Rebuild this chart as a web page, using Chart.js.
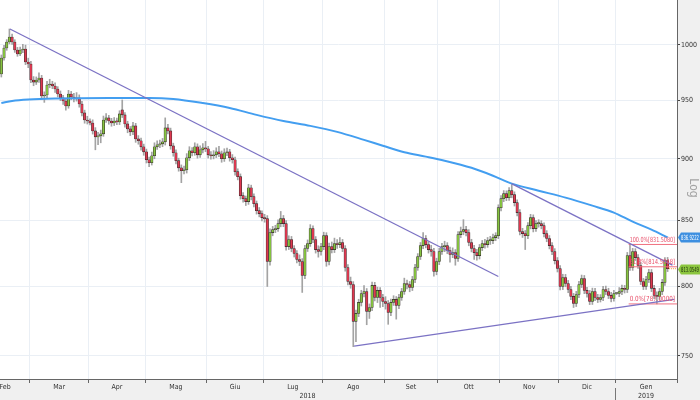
<!DOCTYPE html>
<html>
<head>
<meta charset="utf-8">
<script src="https://cdn.jsdelivr.net/npm/chart.js@4.4.1/dist/chart.umd.min.js"></script>
<style>
  html, body { margin: 0; padding: 0; background: #f0f0f0; }
  canvas { display: block; }
</style>
</head>
<body>
<canvas id="candleChart" width="700" height="400"></canvas>
<script>
// x is the trading-day index, 0 = 14 Feb 2018
var monthLabels = ['Feb', 'Mar', 'Apr', 'Mag', 'Giu', 'Lug', 'Ago', 'Set', 'Ott', 'Nov', 'Dic', 'Gen'];
var monthStarts = [-9, 11, 33, 54, 77, 98, 120, 143, 163, 186, 208, 229, 252];
var yearLabels = ['2018', '2019'];
var yearStarts = [0, 229, 252];
var yTicks = [750, 800, 850, 900, 950, 1000];

var opens = [
  973.5, 988.0, 997.2, 1002.8, 1007.4, 1002.8, 995.4, 991.7, 995.4, 996.3,
  984.4, 982.6, 968.1, 966.3, 968.1, 969.9, 953.9, 954.8, 963.7, 964.6,
  962.8, 960.1, 955.7, 952.2, 949.5, 945.1, 955.7, 953.0, 951.3, 952.2,
  946.9, 939.1, 933.0, 932.1, 930.4, 923.6, 918.5, 919.4, 921.1, 933.0,
  934.8, 932.1, 930.4, 932.1, 931.3, 941.7, 937.4, 929.6, 925.3, 922.8,
  927.9, 916.8, 915.2, 910.1, 905.9, 899.3, 896.8, 902.6, 910.1, 911.8,
  912.6, 914.3, 926.2, 923.6, 910.9, 905.1, 898.5, 892.6, 890.2, 891.0,
  900.9, 906.8, 905.1, 910.1, 903.4, 907.6, 909.3, 908.4, 903.4, 902.6,
  903.4, 905.9, 904.3, 900.1, 905.1, 905.9, 900.9, 899.3, 889.4, 885.3,
  869.9, 867.5, 865.1, 876.3, 869.1, 863.5, 857.9, 855.6, 852.4, 851.6,
  818.5, 840.7, 843.0, 843.8, 847.7, 851.6, 847.7, 829.9, 835.3, 828.4,
  824.6, 820.0, 818.5, 808.0, 828.4, 832.2, 843.8, 835.3, 827.6, 826.1,
  829.9, 838.3, 818.5, 829.9, 827.6, 832.2, 831.4, 833.0, 828.4, 814.0,
  803.5, 801.3, 774.4, 780.1, 788.1, 794.6, 796.1, 781.6, 784.4, 800.6,
  791.7, 796.9, 791.7, 788.8, 787.3, 780.8, 788.1, 790.3, 785.9, 791.7,
  796.1, 802.0, 801.3, 799.1, 805.0, 814.0, 822.3, 830.6, 836.1, 831.4,
  827.6, 826.1, 811.0, 818.5, 826.1, 829.9, 830.6, 826.8, 823.8, 825.3,
  820.8, 839.1, 841.5, 843.0, 840.7, 833.0, 828.4, 825.3, 823.0, 829.1,
  832.2, 831.4, 834.5, 834.5, 836.8, 838.3, 860.3, 867.5, 871.5, 868.3,
  873.9, 870.7, 864.3, 856.4, 841.5, 839.9, 838.3, 846.1, 852.4, 843.8,
  847.7, 847.7, 846.1, 839.9, 836.1, 830.6, 826.1, 819.2, 813.2, 799.8,
  806.5, 802.0, 797.6, 792.5, 787.3, 793.9, 801.3, 805.7, 796.9, 794.6,
  788.8, 796.1, 791.7, 790.3, 791.7, 797.6, 796.1, 793.2, 791.0, 794.6,
  794.6, 796.1, 798.4, 797.6, 823.0, 814.0, 826.1, 821.5, 815.5, 803.5,
  799.8, 805.0, 810.2, 798.4, 793.2, 792.5, 796.1, 802.8, 819.2
];
var highs = [
  990.8, 999.6, 1005.0, 1014.9, 1010.2, 1004.9, 997.8, 998.0, 1000.6, 999.9,
  987.9, 984.9, 971.2, 970.9, 974.5, 972.3, 957.6, 966.9, 968.8, 967.0,
  965.5, 962.2, 958.4, 954.6, 952.0, 958.9, 958.0, 956.2, 956.9, 954.9,
  949.2, 941.5, 936.2, 934.0, 933.1, 926.4, 922.4, 924.3, 936.4, 938.6,
  937.0, 934.4, 935.1, 934.6, 941.0, 950.4, 939.5, 931.9, 927.4, 931.0,
  930.1, 919.6, 917.5, 912.4, 908.2, 901.5, 905.7, 913.5, 915.1, 915.8,
  917.2, 934.8, 929.3, 926.0, 913.2, 907.5, 900.6, 895.0, 894.1, 904.4,
  910.2, 909.4, 913.5, 912.6, 911.0, 912.8, 914.7, 910.5, 906.2, 906.9,
  909.3, 910.5, 906.6, 908.5, 909.0, 908.0, 903.6, 901.6, 891.8, 887.6,
  872.3, 869.6, 879.1, 878.4, 871.4, 865.6, 860.4, 857.8, 855.0, 854.0,
  843.6, 845.5, 846.4, 850.6, 857.3, 854.1, 850.0, 838.2, 837.7, 830.6,
  826.8, 823.5, 820.7, 830.9, 835.0, 846.9, 846.0, 837.6, 830.5, 832.4,
  841.0, 840.6, 832.5, 833.4, 836.4, 835.2, 836.8, 835.4, 830.6, 816.2,
  806.8, 803.4, 782.6, 790.4, 797.0, 800.5, 798.3, 787.0, 803.0, 802.9,
  799.3, 799.0, 794.0, 792.3, 789.5, 790.5, 793.0, 792.4, 794.0, 798.4,
  806.0, 804.6, 803.5, 807.3, 816.4, 824.5, 833.0, 840.7, 838.4, 833.6,
  830.8, 828.5, 821.0, 828.6, 832.3, 834.0, 832.9, 829.5, 828.9, 827.6,
  841.5, 845.0, 850.8, 845.5, 843.0, 835.5, 830.9, 827.8, 831.5, 834.6,
  835.5, 836.9, 837.8, 839.5, 840.6, 862.6, 870.0, 874.0, 873.8, 876.4,
  878.8, 873.0, 866.5, 858.7, 844.0, 842.3, 848.5, 855.0, 854.6, 850.1,
  850.8, 850.0, 848.3, 842.2, 838.4, 832.9, 828.3, 821.5, 815.4, 808.9,
  808.8, 804.3, 800.0, 794.7, 796.2, 803.6, 808.3, 808.0, 799.1, 796.9,
  798.6, 798.4, 794.0, 793.8, 800.0, 800.1, 798.5, 795.5, 796.9, 795.4,
  799.0, 800.8, 800.6, 825.4, 831.5, 828.5, 828.3, 823.8, 817.8, 805.8,
  807.3, 812.6, 812.5, 800.6, 795.9, 798.4, 805.1, 821.5, 821.6
];
var lows = [
  970.8, 986.0, 995.1, 1001.0, 1000.5, 993.2, 989.6, 990.1, 993.0, 982.0,
  979.2, 965.7, 963.0, 964.1, 966.0, 951.1, 948.3, 952.5, 961.2, 960.4,
  957.0, 953.1, 949.8, 946.5, 941.5, 943.2, 950.6, 948.7, 949.4, 944.1,
  936.4, 930.2, 929.5, 928.8, 920.9, 907.6, 912.0, 913.5, 919.0, 930.9,
  929.3, 927.6, 928.2, 928.9, 929.0, 935.1, 926.8, 922.0, 919.6, 920.4,
  913.9, 912.3, 907.3, 903.0, 896.6, 893.5, 894.9, 900.1, 907.9, 909.4,
  910.2, 911.6, 921.1, 908.1, 902.2, 895.8, 889.8, 880.4, 887.5, 888.3,
  898.6, 902.4, 903.0, 900.6, 901.3, 905.0, 906.0, 900.7, 899.8, 900.0,
  901.1, 901.8, 897.2, 897.9, 902.7, 898.1, 896.5, 886.5, 882.7, 867.1,
  864.6, 862.0, 862.9, 866.5, 860.8, 855.2, 853.0, 849.9, 848.8, 799.8,
  815.8, 838.2, 840.6, 841.5, 845.2, 845.3, 827.1, 827.6, 825.9, 821.9,
  817.5, 815.4, 795.4, 805.6, 826.1, 830.0, 832.8, 824.9, 821.8, 823.4,
  827.5, 814.9, 816.0, 825.0, 825.3, 828.5, 829.0, 826.0, 811.2, 800.9,
  798.5, 756.5, 760.0, 777.8, 785.5, 792.1, 772.0, 776.5, 782.1, 789.2,
  788.0, 784.5, 785.0, 783.2, 772.3, 778.5, 785.9, 776.0, 783.5, 789.6,
  794.0, 798.0, 795.9, 796.8, 802.6, 811.8, 820.0, 828.3, 828.9, 824.9,
  822.5, 807.5, 808.5, 816.1, 823.8, 826.0, 824.4, 818.0, 821.4, 815.7,
  818.5, 836.8, 839.0, 838.1, 830.5, 825.8, 820.1, 819.6, 820.4, 826.8,
  828.6, 829.3, 831.5, 832.2, 834.4, 836.0, 857.8, 865.1, 865.9, 866.0,
  868.2, 861.6, 853.7, 838.9, 836.9, 827.6, 836.0, 843.6, 841.2, 841.5,
  844.9, 843.6, 837.4, 833.6, 828.1, 823.6, 816.6, 810.6, 797.3, 797.5,
  799.6, 795.2, 790.1, 784.4, 785.1, 791.6, 799.0, 794.5, 792.0, 786.5,
  786.6, 789.3, 788.0, 788.4, 789.4, 793.8, 790.9, 788.5, 789.0, 793.8,
  792.3, 793.7, 795.0, 795.3, 811.7, 811.8, 819.2, 813.2, 801.2, 797.5,
  797.6, 802.7, 796.0, 790.9, 787.0, 790.2, 793.8, 800.5, 810.9
];
var closes = [
  988.0, 997.2, 1002.8, 1007.4, 1002.8, 995.4, 991.7, 995.4, 996.3, 984.4,
  982.6, 968.1, 966.3, 968.1, 969.9, 953.9, 954.8, 963.7, 964.6, 962.8,
  960.1, 955.7, 952.2, 949.5, 945.1, 955.7, 953.0, 951.3, 952.2, 946.9,
  939.1, 933.0, 932.1, 930.4, 923.6, 918.5, 919.4, 921.1, 933.0, 934.8,
  932.1, 930.4, 932.1, 931.3, 938.2, 937.4, 929.6, 925.3, 922.8, 927.9,
  916.8, 915.2, 910.1, 905.9, 899.3, 896.8, 902.6, 910.1, 911.8, 912.6,
  914.3, 926.2, 923.6, 910.9, 905.1, 898.5, 892.6, 890.2, 891.0, 900.9,
  906.8, 905.1, 910.1, 903.4, 907.6, 909.3, 908.4, 903.4, 902.6, 903.4,
  905.9, 904.3, 900.1, 905.1, 905.9, 900.9, 899.3, 889.4, 885.3, 869.9,
  867.5, 865.1, 876.3, 869.1, 863.5, 857.9, 855.6, 852.4, 851.6, 818.5,
  840.7, 843.0, 843.8, 847.7, 851.6, 847.7, 829.9, 835.3, 828.4, 824.6,
  820.0, 818.5, 808.0, 828.4, 832.2, 843.8, 835.3, 827.6, 826.1, 829.9,
  838.3, 818.5, 829.9, 827.6, 832.2, 831.4, 833.0, 828.4, 814.0, 803.5,
  801.3, 774.4, 780.1, 788.1, 794.6, 796.1, 781.6, 784.4, 800.6, 791.7,
  796.9, 791.7, 788.8, 787.3, 780.8, 788.1, 790.3, 785.9, 791.7, 796.1,
  802.0, 801.3, 799.1, 805.0, 814.0, 822.3, 830.6, 836.1, 831.4, 827.6,
  826.1, 811.0, 818.5, 826.1, 829.9, 830.6, 826.8, 823.8, 825.3, 820.8,
  839.1, 841.5, 843.0, 840.7, 833.0, 828.4, 825.3, 823.0, 829.1, 832.2,
  831.4, 834.5, 834.5, 836.8, 838.3, 860.3, 867.5, 871.5, 868.3, 873.9,
  870.7, 864.3, 856.4, 841.5, 839.9, 838.3, 846.1, 852.4, 843.8, 847.7,
  847.7, 846.1, 839.9, 836.1, 830.6, 826.1, 819.2, 813.2, 799.8, 806.5,
  802.0, 797.6, 792.5, 787.3, 793.9, 801.3, 805.7, 796.9, 794.6, 788.8,
  796.1, 791.7, 790.3, 791.7, 797.6, 796.1, 793.2, 791.0, 794.6, 794.6,
  796.1, 798.4, 797.6, 823.0, 814.0, 826.1, 821.5, 815.5, 803.5, 799.8,
  805.0, 810.2, 798.4, 793.2, 792.5, 796.1, 802.8, 819.2, 813.0549
];

// 200-day moving average, read at a few days
var maDays = [0, 4, 10, 20, 40, 55, 64, 75, 85, 95, 105, 115, 125, 135, 142, 150, 158, 165, 175, 183, 190, 200, 210, 220, 228, 235, 242, 248];
var maValues = [947.7, 949.5, 950.8, 951.7, 952.2, 952.2, 951.3, 947.7, 943.4, 937.4, 932.1, 927.9, 922.8, 916.0, 911.0, 905.5, 901.9, 898.5, 892.6, 886.1, 879.6, 873.9, 868.3, 861.9, 856.4, 849.2, 843.0, 836.9222];

// trend lines: [start day, end day] and [start value, end value]
var trendDays = [[3.2, 185], [131.3, 250.5], [189.9, 249.8]];
var trendValues = [[1014.9, 807.2], [756.8, 790.3], [879.6, 815.8]];

// fibonacci retracement
var fibNames = ['100.0%', '61.8%', '0.0%'];
var fibLevels = [831.508, 814.5048, 787.0];
var fibFrom = 233.5;

var xMin = -0.5, xMax = 251.5;
var upColor = '#86c440', downColor = '#df3850';
var axisFont = { family: "'DejaVu Sans Condensed', 'DejaVu Sans', sans-serif", size: 7 };
var narrowFamily = "'Liberation Sans Narrow', 'DejaVu Sans Condensed', sans-serif";

var monthMids = monthLabels.map(function (m, k) {
  return Math.max((monthStarts[k] + monthStarts[k + 1]) / 2 - 0.5, 1.4);
});
var yearMids = yearLabels.map(function (y, k) {
  return (yearStarts[k] + yearStarts[k + 1]) / 2 - 0.5;
});

var datasets = [
  {
    type: 'bar', label: 'wick', order: 5, grouped: false, barThickness: 1, minBarLength: 1,
    backgroundColor: '#a3a3a3', borderWidth: 0,
    data: lows.map(function (l, i) { return { x: i, y: [l, highs[i]] }; })
  },
  {
    type: 'bar', label: 'body', order: 4, grouped: false, barThickness: 2.5, minBarLength: 1,
    backgroundColor: function (c) { return closes[c.dataIndex] >= opens[c.dataIndex] ? upColor : downColor; },
    borderColor: 'rgba(35,25,25,0.9)', borderWidth: 0.6, borderSkipped: false,
    data: closes.map(function (c, i) { return { x: i, y: [opens[i], c] }; })
  },
  {
    type: 'line', label: 'MA200', order: 2, borderColor: '#439ef0', borderWidth: 2,
    pointRadius: 0, fill: false, cubicInterpolationMode: 'monotone',
    data: maDays.map(function (d, k) { return { x: d, y: maValues[k] }; })
  }
];
trendDays.forEach(function (d, k) {
  datasets.push({
    type: 'line', label: 'trend' + k, order: 1, borderColor: '#7b72c4', borderWidth: 1.3,
    pointRadius: 0, fill: false,
    data: [{ x: d[0], y: trendValues[k][0] }, { x: d[1], y: trendValues[k][1] }]
  });
});
fibLevels.forEach(function (v, k) {
  datasets.push({
    type: 'line', label: fibNames[k], order: 1, borderColor: '#f0707f', borderWidth: 1,
    pointRadius: 0, fill: false,
    data: [{ x: fibFrom, y: v }, { x: xMax, y: v }]
  });
});

// text squeezed to a given width, like the terminal's narrow font
function fitText(ctx, text, x, y, maxW) {
  var w = ctx.measureText(text).width;
  var sx = w > maxW ? maxW / w : 1;
  ctx.save();
  ctx.translate(x, y);
  ctx.scale(sx, 1);
  ctx.fillText(text, 0, 0);
  ctx.restore();
}

function valueBox(ctx, chart, value, fill, textColor) {
  var a = chart.chartArea;
  var y = Math.round(chart.scales.y.getPixelForValue(value)) + 0.5;
  ctx.beginPath();
  ctx.moveTo(a.right + 1, y);
  ctx.lineTo(a.right + 4, y - 5);
  ctx.lineTo(chart.width, y - 5);
  ctx.lineTo(chart.width, y + 5);
  ctx.lineTo(a.right + 4, y + 5);
  ctx.closePath();
  ctx.fillStyle = fill;
  ctx.fill();
  ctx.fillStyle = textColor;
  ctx.font = '7px ' + narrowFamily;
  ctx.textAlign = 'left';
  ctx.textBaseline = 'middle';
  fitText(ctx, value.toFixed(4), a.right + 4, y + 0.5, chart.width - a.right - 5);
}

var decor = {
  id: 'decor',
  beforeDraw: function (chart) {
    var ctx = chart.ctx, a = chart.chartArea;
    ctx.save();
    ctx.fillStyle = '#f0f0f0';
    ctx.fillRect(0, 0, chart.width, chart.height);
    ctx.fillStyle = '#ffffff';
    ctx.fillRect(a.left, a.top, a.right - a.left, a.bottom - a.top);
    ctx.restore();
  },
  afterDatasetsDraw: function (chart) {
    var ctx = chart.ctx, a = chart.chartArea, xs = chart.scales.x, ys = chart.scales.y;
    ctx.save();
    ctx.font = '7px ' + narrowFamily;
    ctx.fillStyle = '#e8506a';
    ctx.textAlign = 'left';
    ctx.textBaseline = 'bottom';
    var x0 = xs.getPixelForValue(fibFrom);
    fibLevels.forEach(function (v, k) {
      fitText(ctx, fibNames[k] + '[' + v.toFixed(4) + ']', x0 + 1, ys.getPixelForValue(v) - 1, a.right - x0 - 3);
    });
    // last price line
    var last = closes.length - 1;
    var yl = ys.getPixelForValue(closes[last]);
    ctx.strokeStyle = '#f29a3a';
    ctx.setLineDash([1, 1]);
    ctx.beginPath();
    ctx.moveTo(xs.getPixelForValue(last) + 1.5, yl);
    ctx.lineTo(a.right, yl);
    ctx.stroke();
    ctx.restore();
  },
  afterDraw: function (chart) {
    var ctx = chart.ctx, a = chart.chartArea, xs = chart.scales.x;
    ctx.save();
    valueBox(ctx, chart, maValues[maValues.length - 1], '#3d8fe0', '#ffffff');
    valueBox(ctx, chart, closes[closes.length - 1], '#8cc63f', '#1c2c0c');
    // year separator under the axis
    var xs0 = Math.round(xs.getPixelForValue(yearStarts[1] - 0.5)) + 0.5;
    ctx.strokeStyle = '#777';
    ctx.lineWidth = 1;
    ctx.beginPath();
    ctx.moveTo(xs0, a.bottom + 9);
    ctx.lineTo(xs0, chart.height);
    ctx.stroke();
    // scale type
    ctx.translate(693, 188);
    ctx.rotate(Math.PI / 2);
    ctx.fillStyle = '#a3a3a3';
    ctx.font = '12px ' + axisFont.family;
    ctx.textAlign = 'center';
    ctx.textBaseline = 'middle';
    ctx.fillText('Log', 0, 0);
    ctx.restore();
  }
};

function noPadding(s) {
  s.paddingLeft = 0; s.paddingRight = 0; s.paddingTop = 0; s.paddingBottom = 0;
}

var ctx = document.getElementById('candleChart').getContext('2d');
var myChart = new Chart(ctx, {
  type: 'bar',
  data: { datasets: datasets },
  options: {
    responsive: false,
    animation: false,
    devicePixelRatio: 1,
    events: [],
    layout: { padding: 0 },
    plugins: { legend: { display: false }, tooltip: { enabled: false } },
    scales: {
      x: {
        type: 'linear', min: xMin, max: xMax, offset: false, weight: 0,
        afterBuildTicks: function (s) {
          s.ticks = monthStarts.slice(1).map(function (m) { return { value: m - 0.5 }; });
        },
        ticks: { display: false },
        grid: { offset: false, color: '#eaeff5', tickLength: 4, tickColor: '#666' },
        border: { color: '#666' },
        afterFit: function (s) { noPadding(s); s.height = 4; }
      },
      x2: {
        type: 'linear', position: 'bottom', min: xMin, max: xMax, offset: false, weight: 1,
        afterBuildTicks: function (s) {
          s.ticks = monthMids.map(function (m) { return { value: m }; });
        },
        ticks: {
          autoSkip: false, maxRotation: 0, padding: 0, font: axisFont, color: '#333',
          callback: function (v, i) { return monthLabels[i]; }
        },
        grid: { display: false, drawTicks: false },
        border: { display: false },
        afterFit: function (s) { noPadding(s); s.height = 9; }
      },
      x3: {
        type: 'linear', position: 'bottom', min: xMin, max: xMax, offset: false, weight: 2,
        afterBuildTicks: function (s) {
          s.ticks = yearMids.map(function (m) { return { value: m }; });
        },
        ticks: {
          autoSkip: false, maxRotation: 0, padding: 0, font: axisFont, color: '#333',
          callback: function (v, i) { return yearLabels[i]; }
        },
        grid: { display: false, drawTicks: false },
        border: { display: false },
        afterFit: function (s) { noPadding(s); s.height = 8; }
      },
      y: {
        type: 'logarithmic', position: 'right', min: 734.2, max: 1042.5, beginAtZero: false,
        afterBuildTicks: function (s) {
          s.ticks = yTicks.map(function (v) { return { value: v }; });
        },
        ticks: { font: axisFont, color: '#333', padding: 1, callback: function (v) { return String(v); } },
        grid: { color: '#eaeff5', tickLength: 3, tickColor: '#444' },
        border: { color: '#666' },
        afterFit: function (s) { noPadding(s); s.width = 23; }
      }
    }
  },
  plugins: [decor]
});
</script>
</body>
</html>
